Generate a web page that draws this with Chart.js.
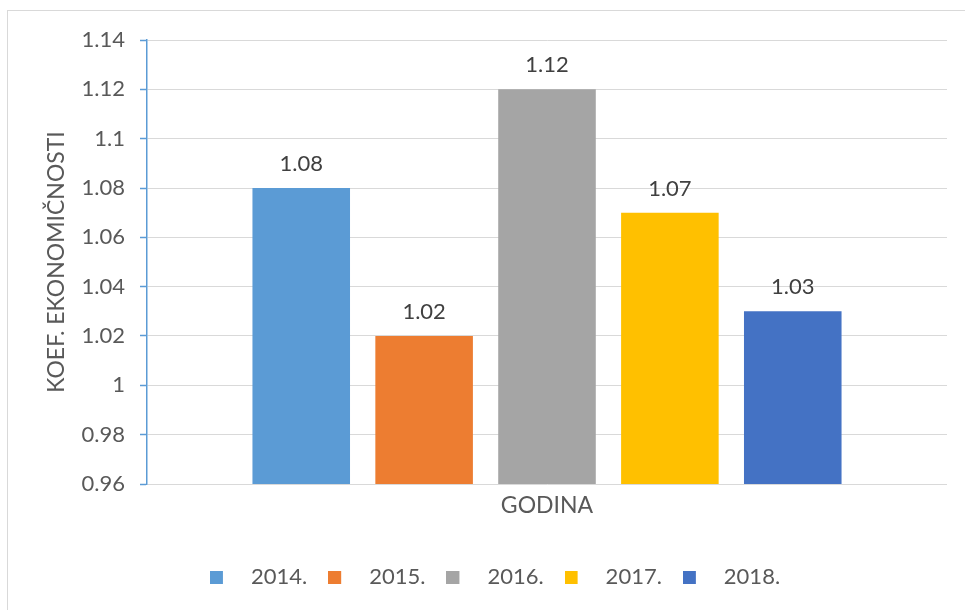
<!DOCTYPE html>
<html>
<head>
<meta charset="utf-8">
<script src="https://cdn.jsdelivr.net/npm/chart.js@4.4.1/dist/chart.umd.min.js"></script>
<style>
  html, body { margin: 0; padding: 0; background: #fff; overflow: hidden; }
  #frame { position: absolute; left: 7px; top: 10px; width: 1000px; height: 700px; border: 1px solid #d9d9d9; }
  #wrap { position: absolute; left: 0; top: 0; width: 965px; height: 610px; }
</style>
</head>
<body>
<div id="frame"></div>
<div id="wrap"><canvas id="chart" width="965" height="610"></canvas></div>
<script>
// chart data
const categories = ['GODINA'];
const years = ['2014.', '2015.', '2016.', '2017.', '2018.'];
const values = [1.08, 1.02, 1.12, 1.07, 1.03];
const colors = ['#5B9BD5', '#ED7D31', '#A5A5A5', '#FFC000', '#4472C4'];
const yMin = 0.96, yMax = 1.14, yStep = 0.02;
const yTitle = 'KOEF. EKONOMIČNOSTI';

const FONT = 'Lato, "Open Sans", sans-serif';
const TEXT = '#595959';

// legend swatch: small square on the left of a wider transparent box
function swatch(color) {
  const c = document.createElement('canvas');
  c.width = 30; c.height = 13;
  const g = c.getContext('2d');
  g.fillStyle = color;
  g.fillRect(0, 0, 13, 13);
  return c;
}

// value labels above the bars
const barLabels = {
  id: 'barLabels',
  afterDatasetsDraw(chart) {
    const ctx = chart.ctx;
    ctx.save();
    ctx.font = '22px ' + FONT;
    ctx.fillStyle = '#404040';
    ctx.textAlign = 'center';
    ctx.textBaseline = 'alphabetic';
    chart.data.datasets.forEach((ds, i) => {
      chart.getDatasetMeta(i).data.forEach((bar, j) => {
        ctx.fillText(ds.data[j].toFixed(2), bar.x, bar.y - 17);
      });
    });
    ctx.restore();
  }
};

const datasets = years.map((y, i) => ({
  label: y,
  data: [values[i]],
  backgroundColor: colors[i],
  borderWidth: 0,
  categoryPercentage: 0.768,
  barPercentage: 0.794
}));

new Chart(document.getElementById('chart').getContext('2d'), {
  type: 'bar',
  data: { labels: categories, datasets },
  plugins: [barLabels],
  options: {
    responsive: false,
    animation: false,
    layout: { padding: { left: 43, right: 18, top: 40, bottom: 12 } },
    plugins: {
      tooltip: { enabled: false },
      legend: {
        position: 'bottom',
        labels: {
          usePointStyle: true,
          pointStyleWidth: 30,
          boxHeight: 13,
          padding: 21,
          color: TEXT,
          font: { family: FONT, size: 22 },
          generateLabels: chart => Chart.defaults.plugins.legend.labels.generateLabels(chart)
            .map((l, i) => Object.assign(l, { pointStyle: swatch(colors[i]) }))
        }
      }
    },
    scales: {
      x: {
        grid: { display: false, drawTicks: false },
        border: { display: false },
        ticks: { color: TEXT, font: { family: FONT, size: 23 }, padding: 8 },
        afterFit: s => { s.height = 61; }
      },
      y: {
        min: yMin,
        max: yMax,
        grid: { color: '#d9d9d9', lineWidth: 1, tickLength: 7, tickColor: '#5B9BD5', tickWidth: 1.5 },
        border: { color: '#5B9BD5', width: 1.5 },
        ticks: {
          stepSize: yStep,
          color: TEXT,
          font: { family: FONT, size: 22 },
          padding: 15,
          callback: v => String(+v.toFixed(2))
        },
        title: {
          display: true,
          text: yTitle,
          color: TEXT,
          font: { family: FONT, size: 23 },
          padding: { top: 0, bottom: 0 }
        },
        afterFit: s => { s.width = 104; }
      }
    }
  }
});
</script>
</body>
</html>
